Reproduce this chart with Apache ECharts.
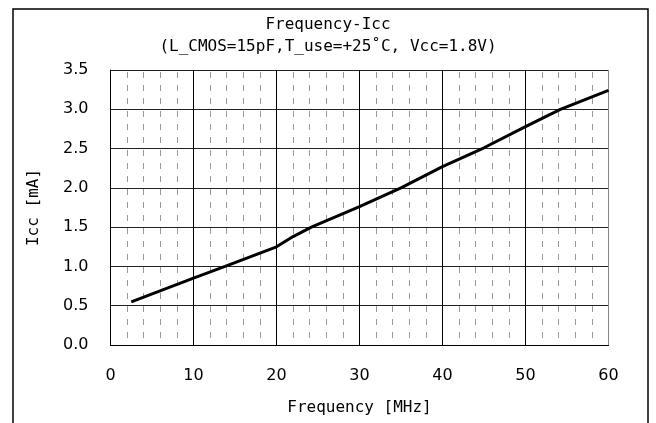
<!DOCTYPE html>
<html>
<head>
<meta charset="utf-8">
<script src="https://cdn.jsdelivr.net/npm/echarts@6/dist/echarts.min.js"></script>
<style>
  html, body { margin: 0; padding: 0; background: #fff; }
  #chart { width: 656px; height: 423px; }
</style>
</head>
<body>
<div id="chart"></div>
<script>
const freq = [2.5, 10, 13.8, 20, 22, 24.2, 30, 35, 40, 45, 50, 54.2, 60];
const icc = [0.55, 0.85, 1.0, 1.25, 1.38, 1.5, 1.76, 2.0, 2.27, 2.51, 2.78, 3.0, 3.24];

const titleText = 'Frequency-Icc';
const subText = '(L_CMOS=15pF,T_use=+25\u02daC, Vcc=1.8V)';
const font = '"DejaVu Sans Mono", monospace';
const tickFont = '"DejaVu Sans", sans-serif';

const chart = echarts.init(document.getElementById('chart'));

const option = {
  backgroundColor: '#fff',
  animation: false,
  title: {
    left: 'center',
    top: 12,
    text: titleText,
    subtext: subText,
    itemGap: 6,
    textStyle: { fontFamily: font, fontSize: 16, fontWeight: 'normal', color: '#000' },
    subtextStyle: { fontFamily: font, fontSize: 16, color: '#000' }
  },
  grid: { left: 110.5, right: 47.5, top: 70, bottom: 78 },
  xAxis: {
    type: 'value',
    min: 0, max: 60, interval: 10,
    name: 'Frequency [MHz]',
    nameLocation: 'middle',
    nameGap: 55,
    nameTextStyle: { fontFamily: font, fontSize: 16, color: '#000' },
    axisLine: { show: true, lineStyle: { color: '#000', width: 1 } },
    axisTick: { show: false },
    axisLabel: { fontFamily: tickFont, fontSize: 16, color: '#000', margin: 23 },
    splitLine: {
      show: true,
      lineStyle: { color: ['#000', '#000', '#000', '#000', '#000', '#000', '#888'], width: 1 }
    },
    minorTick: { show: false, splitNumber: 5 },
    minorSplitLine: {
      show: true,
      lineStyle: { color: '#999', width: 1, type: [6, 7], dashOffset: 11 }
    }
  },
  yAxis: {
    type: 'value',
    min: 0, max: 3.5, interval: 0.5,
    name: 'Icc [mA]',
    nameLocation: 'middle',
    nameRotate: 90,
    nameGap: 69,
    nameTextStyle: { fontFamily: font, fontSize: 16, color: '#000' },
    axisLine: { show: true, lineStyle: { color: '#000', width: 1 } },
    axisTick: { show: false },
    axisLabel: {
      fontFamily: tickFont, fontSize: 16, color: '#000', margin: 22,
      formatter: v => v.toFixed(1)
    },
    splitLine: { show: true, lineStyle: { color: '#222', width: 1 } }
  },
  graphic: [{
    type: 'rect',
    shape: { x: 13, y: 9, width: 635, height: 440 },
    style: { fill: 'none', stroke: '#000', lineWidth: 1.5 },
    silent: true
  }],
  series: [{
    type: 'line',
    data: freq.map((f, i) => [f, icc[i]]),
    showSymbol: false,
    lineStyle: { color: '#000', width: 3 },
    z: 5
  }]
};

chart.setOption(option);
</script>
</body>
</html>
